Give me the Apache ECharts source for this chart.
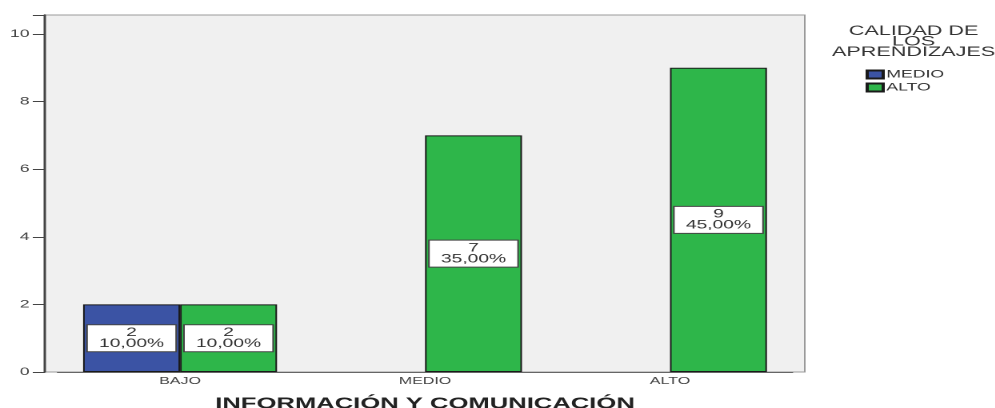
<!DOCTYPE html>
<html>
<head>
<meta charset="utf-8">
<script src="https://cdn.jsdelivr.net/npm/echarts@6/dist/echarts.min.js"></script>
<style>
  html, body { margin: 0; padding: 0; background: #fff; overflow: hidden; }
  /* the reference is an SPSS chart stretched sideways, so draw narrow and stretch */
  #main { width: 622px; height: 408px; transform: scaleX(1.6); transform-origin: 0 0; }
</style>
</head>
<body>
<div id="main"></div>
<script>
var categories = ['BAJO', 'MEDIO', 'ALTO'];
var seriesNames = ['MEDIO', 'ALTO'];
var medioValues = [2, '-', '-'];
var altoValues = [2, 7, 9];
var yTicks = [0, 2, 4, 6, 8, 10];

var total = 0;
[medioValues, altoValues].forEach(function (arr) {
    arr.forEach(function (v) { if (v !== '-') total += v; });
});

function labelText(p) {
    var pct = (p.value / total * 100).toFixed(2).replace('.', ',');
    return p.value + '\n' + pct + '%';
}

var font = '"Liberation Sans", Arial, sans-serif';
var label = {
    show: true,
    position: 'inside',
    formatter: labelText,
    fontFamily: font,
    fontSize: 12,
    lineHeight: 11,
    color: '#333',
    backgroundColor: '#fff',
    borderColor: '#444',
    borderWidth: 1,
    padding: [2, 7, 2, 7],
    align: 'center'
};

var chart = echarts.init(document.getElementById('main'), null, { devicePixelRatio: 2 });
var option = {
    animation: false,
    textStyle: { fontFamily: font },
    title: {
        text: 'CALIDAD DE\nLOS\nAPRENDIZAJES',
        left: 566,
        top: 21,
        textAlign: 'center',
        textStyle: { fontSize: 13.5, fontWeight: 'normal', lineHeight: 10.5, color: '#333', fontFamily: font }
    },
    legend: {
        data: seriesNames,
        orient: 'vertical',
        left: 536,
        top: 64,
        itemWidth: 10,
        itemHeight: 8,
        itemGap: 2,
        icon: 'rect',
        textStyle: { fontSize: 11, lineHeight: 8, color: '#333', padding: [0, 0, 0, -3] }
    },
    graphic: [{
        type: 'rect',
        shape: { x: 28, y: 15, width: 475, height: 357 },
        style: { fill: '#f0f0f0', stroke: '#9a9a9a', lineWidth: 1 },
        z: -1
    }],
    grid: { left: 36, right: 126.7, top: 15, bottom: 36, outerBoundsMode: 'none' },
    xAxis: {
        type: 'category',
        data: categories,
        axisLine: { lineStyle: { color: '#666', width: 1 } },
        axisTick: { alignWithLabel: true, length: 5, lineStyle: { color: '#333' } },
        axisLabel: { fontSize: 10, color: '#444', margin: 4 },
        name: 'INFORMACIÓN Y COMUNICACIÓN',
        nameLocation: 'middle',
        nameGap: 24,
        nameTextStyle: { fontSize: 16, fontWeight: 'bold', color: '#222' }
    },
    yAxis: {
        type: 'value',
        min: 0,
        max: 10.56,
        interval: 2,
        offset: 8,
        axisLine: { show: true, lineStyle: { color: '#444', width: 1.5 } },
        axisTick: { show: true, length: 7.5, lineStyle: { color: '#444' } },
        axisLabel: {
            fontSize: 11, color: '#444', margin: 9.5,
            formatter: function (v) { return yTicks.indexOf(v) >= 0 ? v : ''; }
        },
        splitLine: { show: false }
    },
    series: [{
        name: seriesNames[0],
        type: 'bar',
        data: medioValues,
        barWidth: 60.6,
        barGap: '0%',
        itemStyle: { color: '#3b53a4', borderColor: '#1a1a1a', borderWidth: 1 },
        label: label
    }, {
        name: seriesNames[1],
        type: 'bar',
        data: altoValues,
        barWidth: 60.6,
        barGap: '0%',
        itemStyle: { color: '#2eb64a', borderColor: '#1a1a1a', borderWidth: 1 },
        label: label
    }]
};
chart.setOption(option);
</script>
</body>
</html>
